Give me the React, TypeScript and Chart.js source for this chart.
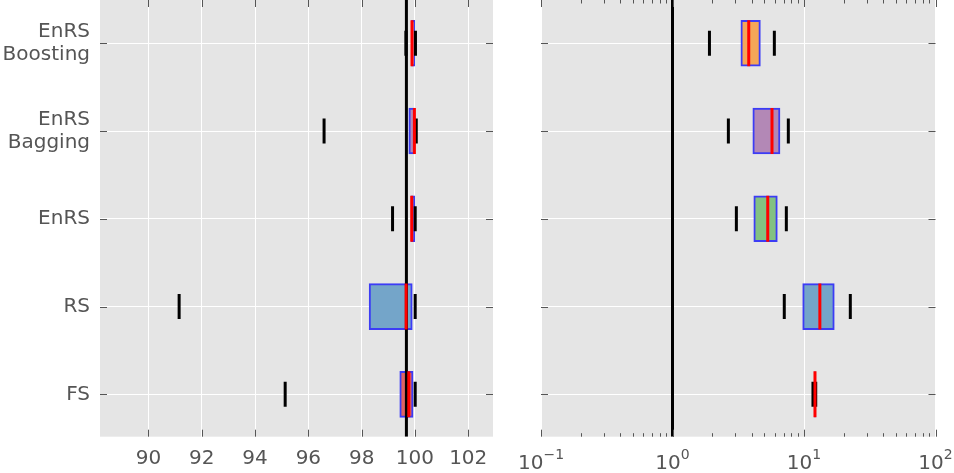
import React, { useEffect, useRef } from 'react';
import { Chart, registerables } from 'chart.js';
Chart.register(...registerables);

// ---------- data ----------
const categoryPos = [1, 2, 3, 4, 5];
const categoryLabels = [['FS'], ['RS'], ['EnRS'], ['EnRS', 'Bagging'], ['EnRS', 'Boosting']];
const boxColors = ['#e06363', '#74a5c9', '#83c182', '#b388b6', '#f5a657'];

// left panel (linear)
const leftLow = [95.13, 91.15, 99.16, 96.59, 99.66];
const leftQ1 = [99.43, 98.28, 99.85, 99.77, 99.87];
const leftMed = [99.77, 99.67, 99.88, 99.98, 99.89];
const leftQ3 = [99.93, 99.9, 99.99, 99.99, 99.99];
const leftHigh = [100.01, 100.01, 100.01, 100.05, 100.02];
const leftRef = 99.68;
const leftTicks = [90, 92, 94, 96, 98, 100, 102];
const leftMin = 88.18;
const leftMax = 102.93;

// right panel (log)
const rightLow = [11.7, 7.08, 3.06, 2.66, 1.91];
const rightQ1 = [12.08, 9.77, 4.15, 4.08, 3.31];
const rightMed = [12.12, 13.2, 5.3, 5.71, 3.8];
const rightQ3 = [12.16, 17.0, 6.27, 6.57, 4.66];
const rightHigh = [12.28, 22.5, 7.34, 7.6, 5.95];
const rightRef = 1;
const rightTicks = [0.1, 1, 10, 100];
const rightMin = 0.1;
const rightMax = 100;

const yMin = 0.517;
const yMax = 5.493;

const FONT = "'DejaVu Sans', sans-serif";
const TICK_COLOR = '#555555';

const bgPlugin = {
  id: 'bgPlugin',
  beforeDraw(chart: any) {
    const { ctx, chartArea } = chart;
    ctx.save();
    ctx.fillStyle = '#e5e5e5';
    ctx.fillRect(chartArea.left, chartArea.top, chartArea.right - chartArea.left, chartArea.bottom - chartArea.top);
    ctx.restore();
  },
};

function makeTickPlugin(isLog: boolean) {
  return {
    id: 'tickPlugin',
    afterDraw(chart: any) {
      const { ctx, chartArea } = chart;
      const xs = chart.scales.x;
      const ys = chart.scales.y;
      ctx.save();
      ctx.strokeStyle = TICK_COLOR;
      ctx.lineWidth = 1;
      const vline = (x: number, len: number) => {
        const px = Math.round(x) + 0.5;
        ctx.beginPath();
        ctx.moveTo(px, chartArea.top);
        ctx.lineTo(px, chartArea.top + len);
        ctx.moveTo(px, chartArea.bottom);
        ctx.lineTo(px, chartArea.bottom - len);
        ctx.stroke();
      };
      xs.ticks.forEach((t: any) => vline(xs.getPixelForValue(t.value), 7));
      if (isLog) {
        [0.1, 1, 10].forEach((d) => {
          for (let k = 2; k <= 9; k++) vline(xs.getPixelForValue(d * k), 3.5);
        });
      }
      ys.ticks.forEach((t: any) => {
        const py = Math.round(ys.getPixelForValue(t.value)) + 0.5;
        ctx.beginPath();
        ctx.moveTo(chartArea.left, py);
        ctx.lineTo(chartArea.left + 7, py);
        ctx.moveTo(chartArea.right, py);
        ctx.lineTo(chartArea.right - 7, py);
        ctx.stroke();
      });
      if (isLog) {
        ctx.fillStyle = TICK_COLOR;
        ctx.textBaseline = 'alphabetic';
        xs.ticks.forEach((t: any) => {
          const e = Math.round(Math.log10(t.value));
          const expStr = e < 0 ? '\u2212' + Math.abs(e) : String(e);
          ctx.font = `20px ${FONT}`;
          const wb = ctx.measureText('10').width;
          ctx.font = `14px ${FONT}`;
          const we = ctx.measureText(expStr).width;
          const x0 = xs.getPixelForValue(t.value) - (wb + we) / 2;
          ctx.font = `20px ${FONT}`;
          ctx.textAlign = 'left';
          ctx.fillText('10', x0, 468.5);
          ctx.font = `14px ${FONT}`;
          ctx.fillText(expStr, x0 + wb, 459);
        });
      }
      ctx.restore();
    },
  };
}

function buildConfig(isLog: boolean): any {
  const low = isLog ? rightLow : leftLow;
  const q1 = isLog ? rightQ1 : leftQ1;
  const med = isLog ? rightMed : leftMed;
  const q3 = isLog ? rightQ3 : leftQ3;
  const high = isLog ? rightHigh : leftHigh;
  const ref = isLog ? rightRef : leftRef;
  const ticks = isLog ? rightTicks : leftTicks;

  const boxes = categoryPos.map((p, i) => ({ x: [q1[i], q3[i]], y: p }));
  const medians = categoryPos.map((p, i) => ({ x: med[i], y: p }));
  const caps = [
    ...categoryPos.map((p, i) => ({ x: low[i], y: p })),
    ...categoryPos.map((p, i) => ({ x: high[i], y: p })),
  ];

  return {
    type: 'scatter',
    data: {
      datasets: [
        {
          type: 'bar',
          indexAxis: 'y',
          data: boxes,
          backgroundColor: boxColors,
          borderColor: 'rgb(60,60,245)',
          borderWidth: 2,
          borderSkipped: false,
          barThickness: 46,
          order: 5,
        },
        {
          type: 'line',
          data: [
            { x: ref, y: yMin },
            { x: ref, y: yMax },
          ],
          borderColor: '#000000',
          borderWidth: 3,
          pointRadius: 0,
          order: 3,
        },
        {
          type: 'scatter',
          data: caps,
          pointStyle: 'line',
          rotation: 90,
          pointRadius: 12.5,
          pointHoverRadius: 12.5,
          borderColor: '#000000',
          backgroundColor: '#000000',
          borderWidth: 3,
          pointBorderWidth: 3,
          order: 2,
        },
        {
          type: 'scatter',
          data: medians,
          pointStyle: 'line',
          rotation: 90,
          pointRadius: 23,
          pointHoverRadius: 23,
          borderColor: '#ff0000',
          backgroundColor: '#ff0000',
          borderWidth: 3,
          pointBorderWidth: 3,
          order: 1,
        },
      ],
    },
    options: {
      responsive: false,
      animation: false,
      events: [],
      layout: { autoPadding: false, padding: { top: 0, left: 0, right: isLog ? 18.5 : 7, bottom: 0 } },
      plugins: { legend: { display: false }, tooltip: { enabled: false } },
      scales: {
        x: {
          type: isLog ? 'logarithmic' : 'linear',
          min: isLog ? rightMin : leftMin,
          max: isLog ? rightMax : leftMax,
          offset: false,
          afterBuildTicks: (scale: any) => {
            scale.ticks = ticks.map((v) => ({ value: v }));
          },
          afterFit: (scale: any) => {
            scale.height = 36.3;
            scale.paddingLeft = 0;
            scale.paddingRight = 0;
          },
          grid: { color: '#ffffff', lineWidth: 1, drawTicks: false, offset: false },
          border: { display: false },
          ticks: {
            display: !isLog,
            padding: 10,
            color: TICK_COLOR,
            font: { family: FONT, size: 20 },
            maxRotation: 0,
            autoSkip: false,
            callback: (v: any) => String(v),
          },
        },
        y: {
          type: 'linear',
          min: yMin,
          max: yMax,
          offset: false,
          afterBuildTicks: (scale: any) => {
            scale.ticks = categoryPos.map((v) => ({ value: v }));
          },
          afterFit: (scale: any) => {
            scale.width = isLog ? 41 : 100;
            scale.paddingTop = 0;
            scale.paddingBottom = 0;
          },
          grid: { color: '#ffffff', lineWidth: 1, drawTicks: false, offset: false },
          border: { display: false },
          ticks: {
            display: !isLog,
            padding: 10,
            color: TICK_COLOR,
            font: { family: FONT, size: 20, lineHeight: 1.15 },
            autoSkip: false,
            callback: (v: any) => {
              const idx = categoryPos.indexOf(Number(v));
              return idx >= 0 ? categoryLabels[idx] : '';
            },
          },
        },
      },
    },
    plugins: [bgPlugin, makeTickPlugin(isLog)],
  };
}

export default function App() {
  const leftRef = useRef<HTMLCanvasElement | null>(null);
  const rightRef = useRef<HTMLCanvasElement | null>(null);

  useEffect(() => {
    const c1 = new Chart(leftRef.current as HTMLCanvasElement, buildConfig(false));
    const c2 = new Chart(rightRef.current as HTMLCanvasElement, buildConfig(true));
    return () => {
      c1.destroy();
      c2.destroy();
    };
  }, []);

  return (
    <div style={{ position: 'absolute', left: 0, top: 0, width: 954, height: 473, background: '#ffffff' }}>
      <canvas ref={leftRef} width={500} height={473} style={{ position: 'absolute', left: 0, top: 0, width: 500, height: 473 }} />
      <canvas ref={rightRef} width={454} height={473} style={{ position: 'absolute', left: 500, top: 0, width: 454, height: 473 }} />
    </div>
  );
}
